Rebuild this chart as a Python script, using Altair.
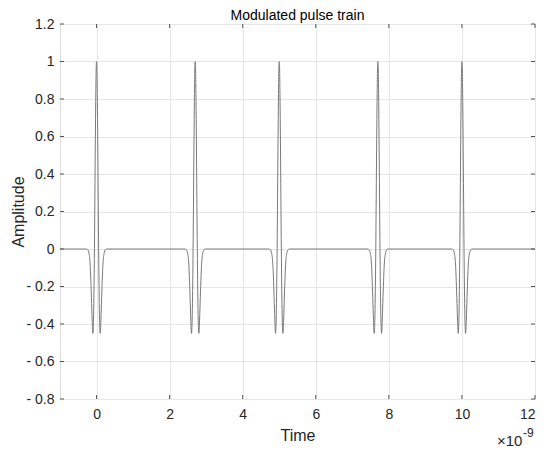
import altair as alt
import pandas as pd

# Pulse centres (ns, axis shows x 1e-9)
pulse_centers = [0.0, 2.7, 5.0, 7.7, 10.0]
# Shape of one pulse: offset (ns) and amplitude
shape_offsets = [-0.30, -0.25, -0.20, -0.17, -0.15, -0.13, -0.12, -0.11, -0.10, -0.09,
                 -0.08, -0.07, -0.06, -0.05, -0.04, -0.03, -0.02, -0.01, 0.0,
                 0.01, 0.02, 0.03, 0.04, 0.05, 0.06, 0.07, 0.08, 0.09, 0.10,
                 0.11, 0.12, 0.13, 0.15, 0.17, 0.20, 0.25, 0.30]
shape_amps = [0.0, -0.002, -0.03, -0.10, -0.20, -0.32, -0.38, -0.43, -0.45, -0.42,
              -0.35, -0.22, -0.05, 0.17, 0.41, 0.64, 0.83, 0.96, 1.0,
              0.96, 0.83, 0.64, 0.41, 0.17, -0.05, -0.22, -0.35, -0.42, -0.45,
              -0.43, -0.38, -0.32, -0.20, -0.10, -0.03, -0.002, 0.0]
t_start, t_end = -1.0, 12.0

x_ticks = [0, 2, 4, 6, 8, 10, 12]
y_ticks = [-0.8, -0.6, -0.4, -0.2, 0, 0.2, 0.4, 0.6, 0.8, 1.0, 1.2]

rows = [{"t": t_start, "a": 0.0}]
for c in pulse_centers:
    for o, a in zip(shape_offsets, shape_amps):
        rows.append({"t": round(c + o, 4), "a": a})
rows.append({"t": t_end, "a": 0.0})
df = pd.DataFrame(rows)

W, H = 475, 375
AX = "#555555"
TXT = "#262626"
FONT = "Liberation Sans"

xscale = alt.Scale(domain=[-1, 12], nice=False, zero=False)
yscale = alt.Scale(domain=[-0.8, 1.2], nice=False, zero=False)

xaxis = alt.Axis(values=x_ticks, title="Time", grid=True, gridColor="#e6e6e6",
                 domain=False, ticks=False, labelPadding=8, labelFontSize=14,
                 labelColor=TXT, titleFontSize=16, titleFontWeight="normal",
                 titleColor=TXT, titlePadding=6, labelFont=FONT, titleFont=FONT,
                 labelOverlap=False)
yaxis = alt.Axis(values=y_ticks, title="Amplitude", grid=True, gridColor="#e6e6e6",
                 domain=False, ticks=False, labelPadding=6, labelFontSize=14,
                 labelColor=TXT, titleFontSize=16, titleFontWeight="normal",
                 titleColor=TXT, labelFont=FONT, titleFont=FONT,
                 titleAngle=270, titleX=-42, titleY=H / 2, titleAlign="center",
                 titleBaseline="middle", labelOverlap=False,
                 labelExpr="datum.value < -0.0001 ? '- ' + format(-datum.value, '.1~f') : format(datum.value, '.1~f')")

line = alt.Chart(df).mark_line(color="#7a7a7a", strokeWidth=1, interpolate="monotone").encode(
    x=alt.X("t:Q", scale=xscale, axis=xaxis, title="Time"),
    y=alt.Y("a:Q", scale=yscale, axis=yaxis, title="Amplitude"),
)

xt = pd.DataFrame({"v": x_ticks})
yt = pd.DataFrame({"v": y_ticks})
tick_bottom = alt.Chart(xt).mark_rule(color=AX, strokeWidth=1).encode(
    x=alt.X("v:Q", scale=xscale, axis=xaxis, title="Time"), y=alt.value(H), y2=alt.value(H - 4))
tick_top = alt.Chart(xt).mark_rule(color=AX, strokeWidth=1).encode(
    x=alt.X("v:Q", scale=xscale, axis=xaxis, title="Time"), y=alt.value(0), y2=alt.value(4))
tick_left = alt.Chart(yt).mark_rule(color=AX, strokeWidth=1).encode(
    y=alt.Y("v:Q", scale=yscale, axis=yaxis, title="Amplitude"), x=alt.value(0), x2=alt.value(4))
tick_right = alt.Chart(yt).mark_rule(color=AX, strokeWidth=1).encode(
    y=alt.Y("v:Q", scale=yscale, axis=yaxis, title="Amplitude"), x=alt.value(W), x2=alt.value(W - 4))

title_txt = alt.Chart(pd.DataFrame({"s": ["Modulated pulse train"]})).mark_text(
    fontSize=14, font=FONT, color="#000000", align="center", baseline="alphabetic").encode(
    text="s:N", x=alt.value(W / 2), y=alt.value(-4))
exp_base = alt.Chart(pd.DataFrame({"s": ["×10"]})).mark_text(
    fontSize=15, font=FONT, color=TXT, align="left", baseline="middle").encode(
    text="s:N", x=alt.value(W - 38), y=alt.value(H + 42))
exp_sup = alt.Chart(pd.DataFrame({"s": ["-9"]})).mark_text(
    fontSize=12, font=FONT, color=TXT, align="left", baseline="middle").encode(
    text="s:N", x=alt.value(W - 12), y=alt.value(H + 34))

chart = alt.layer(line, tick_bottom, tick_top, tick_left, tick_right,
                  title_txt, exp_base, exp_sup).properties(
    width=W, height=H,
    autosize=alt.AutoSizeParams(type="none"),
    padding={"left": 52, "top": 16, "right": 7, "bottom": 49},
).configure_view(stroke=AX, strokeWidth=1).configure(background="white")

chart.save("out.html", embed_options={"renderer": "svg", "actions": False})
